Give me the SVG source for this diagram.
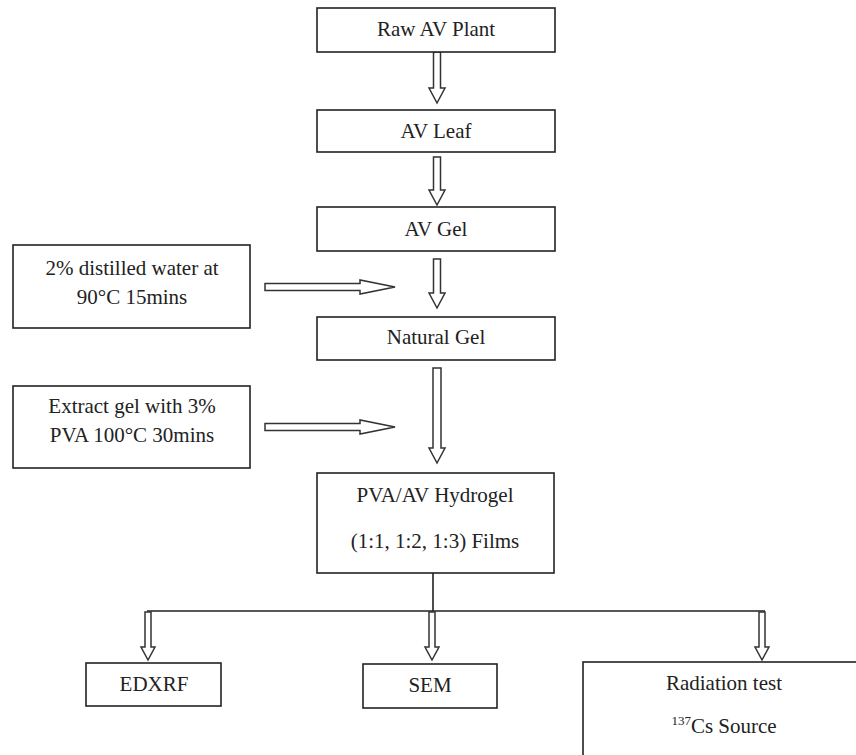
<svg xmlns="http://www.w3.org/2000/svg" width="856" height="755" viewBox="0 0 856 755">
<style>
.box{fill:#fff;stroke:#222;stroke-width:1.6}
.t{font-family:"Liberation Serif","Times New Roman",serif;font-size:21px;fill:#222;text-anchor:middle}
.arr{fill:#fff;stroke:#333;stroke-width:1.5;stroke-linejoin:miter}
.ln{fill:none;stroke:#222;stroke-width:1.6}
</style>
<rect width="856" height="755" fill="#fff"/>
<g id="connectors">
<polygon class="arr" points="433.5,52 440.5,52 440.5,88 445,88 437,103 429,88 433.5,88"/>
<polygon class="arr" points="433.5,157 440.5,157 440.5,190 445,190 437,205 429,190 433.5,190"/>
<polygon class="arr" points="433.5,259 440.5,259 440.5,293 445,293 437,308 429,293 433.5,293"/>
<polygon class="arr" points="433,368 441,368 441,448 445,448 437,463 429,448 433,448"/>
<polygon class="arr" points="265,283.5 360,283.5 360,280 395,287 360,294 360,290.5 265,290.5"/>
<polygon class="arr" points="265,423.5 360,423.5 360,420 395,427 360,434 360,430.5 265,430.5"/>
<path class="ln" d="M433,573 V611 M147,611 H765"/>
<polygon class="arr" points="145,612 151,612 151,647 155,647 148,660 141,647 145,647"/>
<polygon class="arr" points="429,612 435,612 435,647 439,647 432,660 425,647 429,647"/>
<polygon class="arr" points="759,612 765,612 765,647 769,647 762,660 755,647 759,647"/>
</g>
<g id="n_raw"><rect class="box" x="317" y="8" width="238" height="44"/><text class="t" x="436" y="36">Raw AV Plant</text></g>
<g id="n_leaf"><rect class="box" x="317" y="110" width="238" height="42"/><text class="t" x="436" y="138">AV Leaf</text></g>
<g id="n_gel"><rect class="box" x="317" y="207" width="238" height="44"/><text class="t" x="436" y="236">AV Gel</text></g>
<g id="n_water"><rect class="box" x="13" y="245" width="237" height="83"/><text class="t" x="132" y="275">2% distilled water at</text><text class="t" x="132" y="304">90°C 15mins</text></g>
<g id="n_natural"><rect class="box" x="317" y="317" width="238" height="43"/><text class="t" x="436" y="344">Natural Gel</text></g>
<g id="n_extract"><rect class="box" x="13" y="386" width="237" height="82"/><text class="t" x="132" y="413">Extract gel with 3%</text><text class="t" x="132" y="442">PVA 100°C 30mins</text></g>
<g id="n_pva"><rect class="box" x="317" y="473" width="237" height="100"/><text class="t" x="435" y="502">PVA/AV Hydrogel</text><text class="t" x="435" y="548">(1:1, 1:2, 1:3) Films</text></g>
<g id="n_edxrf"><rect class="box" x="86" y="663" width="135" height="43"/><text class="t" x="154" y="691">EDXRF</text></g>
<g id="n_sem"><rect class="box" x="363" y="664" width="134" height="44"/><text class="t" x="430" y="692">SEM</text></g>
<g id="n_rad"><rect class="box" x="583" y="662" width="290" height="110"/><text class="t" x="724" y="690">Radiation test</text><text class="t" x="724" y="733"><tspan font-size="13" dy="-8">137</tspan><tspan dy="8">Cs Source</tspan></text></g>
</svg>
